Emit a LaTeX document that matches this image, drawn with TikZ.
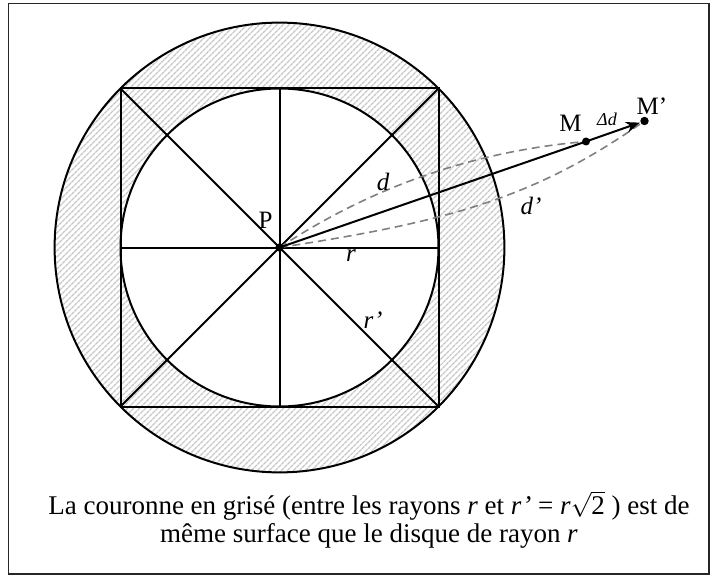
\documentclass[tikz,border=0pt]{standalone}
\usepackage{fontspec}
\setmainfont{Liberation Serif}
\usetikzlibrary{patterns.meta,arrows.meta}
\tikzset{
  figline/.style={line width=2pt, draw=black},
  guess/.style={draw=black!50, line width=1.6pt, dash pattern=on 8pt off 5pt},
  lab/.style={inner sep=0pt, font=\fontsize{25}{29}\selectfont},
  smalllab/.style={inner sep=0pt, font=\fontsize{18}{21}\selectfont\itshape},
  dotpt/.style={fill=black},
}
\begin{document}
\begin{tikzpicture}[x=1pt,y=-1pt]
\useasboundingbox (0,0) rectangle (712,583);
\draw[line width=1.8pt, draw=black!85] (8.5,3.5) rectangle (709,574);
\coordinate (P) at (279.5,247.5);
\coordinate (TL) at (120.5,88.5);
\coordinate (TR) at (438.5,88.5);
\coordinate (BL) at (120.5,406.5);
\coordinate (BR) at (438.5,406.5);
\coordinate (T) at (279.5,88.5);
\coordinate (B) at (279.5,406.5);
\coordinate (L) at (120.5,247.5);
\coordinate (R) at (438.5,247.5);
\coordinate (M) at (586,141.5);
\coordinate (Mp) at (644.5,121);
% hatched ring
\fill[pattern={Lines[angle=45,distance=4pt,line width=1.4pt]}, pattern color=black!22, even odd rule]
  (P) circle[radius=224.9pt] (P) circle[radius=159pt];
\draw[figline] (P) circle[radius=224.9pt];
\draw[figline] (P) circle[radius=159pt];
\draw[figline] (TL) rectangle (BR);
\draw[figline] (T) -- (B);
\draw[figline] (L) -- (R);
\draw[figline] (TL) -- (BR);
\draw[figline] (TR) -- (BL);
% dashed curves
\draw[guess] (P) .. controls (372.7,186.3) and (475,151) .. (M);
\draw[guess] (P) .. controls (449,221.5) and (535,198) .. (Mp);
% straight line and step
\draw[line width=2pt] (P) -- (M);
\draw[line width=2pt, -{Stealth[length=14pt,width=11pt]}, shorten >=5pt] (M) -- (Mp);
\fill[dotpt] (P) circle[radius=4.2pt];
\fill[dotpt] (M) circle[radius=4pt];
\fill[dotpt] (Mp) circle[radius=4.2pt];
% labels
\node[lab] (Plab) at (265.5,220) {P};
\node[lab] (rlab) at (351,256) {\itshape r};
\node[lab] (rplab) at (373,320) {\itshape r’};
\node[lab] (dlab) at (383,182) {\itshape d};
\node[lab] (dplab) at (531,206) {\itshape d’};
\node[lab] (Mlab) at (570.5,123) {M};
\node[smalllab] (Dlab) at (607,119) {Δd};
\node[lab] (Mplab) at (652,106) {M’};
% caption
\node[align=center, inner sep=0pt, font=\fontsize{27}{28.5}\selectfont] (cap) at (369,520)
  {La couronne en grisé (entre les rayons \textit{r} et \textit{r’} = \textit{r}$\sqrt{\hbox{2}}$ ) est de\\même surface que le disque de rayon \textit{r}};
\end{tikzpicture}
\end{document}
